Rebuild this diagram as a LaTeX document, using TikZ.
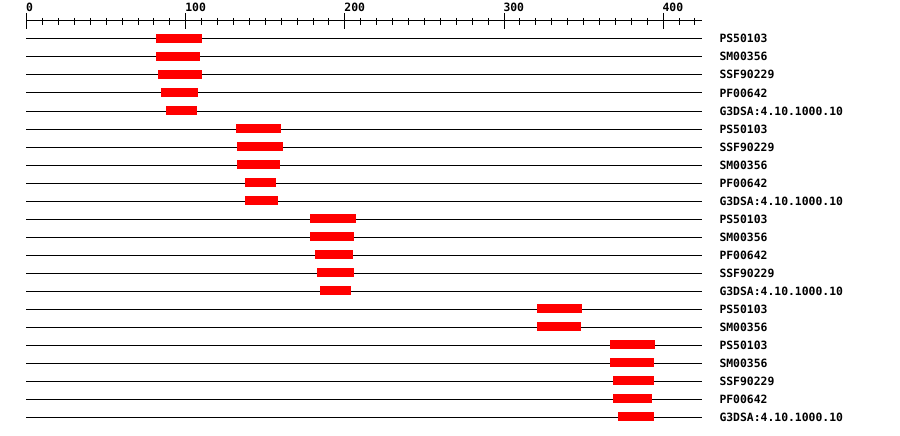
\documentclass[tikz,border=0pt]{standalone}
\usepackage{fontspec}
\newfontfamily\pixmono{DejaVu Sans Mono}[BoldFont={DejaVu Sans Mono Bold}]
\definecolor{barred}{RGB}{255,0,0}
\tikzset{
  rowline/.style={line width=1pt, black},
  bar/.style={fill=barred, draw=none},
  lbl/.style={anchor=base west, inner sep=0pt, font=\pixmono\bfseries\fontsize{11.4}{12}\selectfont},
  axlbl/.style={anchor=base west, inner sep=0pt, font=\pixmono\bfseries\fontsize{11.4}{12}\selectfont},
}
\begin{document}
\begin{tikzpicture}[x=1pt,y=-1pt]
\useasboundingbox[fill=white] (0,0) rectangle (900,436);
% axis
\draw[line width=1pt] (26.7,21) coordinate (axs) -- (702,21) coordinate (axe);
\foreach \v in {0,10,...,420} {
  \pgfmathsetmacro{\xx}{26.7+1.591*\v}
  \draw[line width=1pt] (\xx,18) -- (\xx,25);
}
\foreach \v in {0,100,200,300,400} {
  \pgfmathsetmacro{\xx}{26.7+1.591*\v}
  \draw[line width=1pt] (\xx,13) -- (\xx,29);
  \node[axlbl] (ax\v) at (\xx-0.7,12) {\v};
}
% rows: index/start/end/label
\foreach \i/\a/\b/\t in {
 0/156/202/PS50103,
 1/156/200/SM00356,
 2/158/202/SSF90229,
 3/161/198/PF00642,
 4/166/197/G3DSA:4.10.1000.10,
 5/236/281/PS50103,
 6/237/283/SSF90229,
 7/237/280/SM00356,
 8/245/276/PF00642,
 9/245/278/G3DSA:4.10.1000.10,
 10/310/356/PS50103,
 11/310/354/SM00356,
 12/315/353/PF00642,
 13/317/354/SSF90229,
 14/320/351/G3DSA:4.10.1000.10,
 15/537/582/PS50103,
 16/537/581/SM00356,
 17/610/655/PS50103,
 18/610/654/SM00356,
 19/613/654/SSF90229,
 20/613/652/PF00642,
 21/618/654/G3DSA:4.10.1000.10} {
  \pgfmathsetmacro{\yy}{39+18*\i}
  \coordinate (ls\i) at (26,\yy);
  \coordinate (le\i) at (702,\yy);
  \draw[rowline] (ls\i) -- (le\i);
  \fill[bar] (\a,\yy-4.6) rectangle (\b,\yy+4.4);
  \node[lbl] (lab\i) at (719.3,\yy+4) {\t};
}
\end{tikzpicture}
\end{document}
